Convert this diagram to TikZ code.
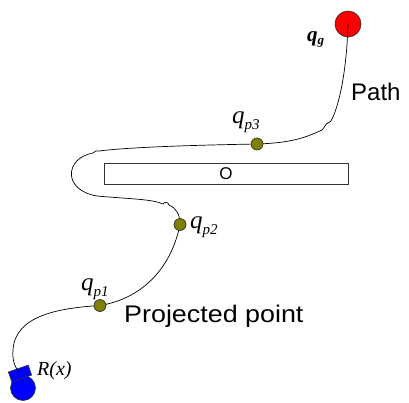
\documentclass[tikz,border=0pt]{standalone}
\usepackage{fontspec}
\setmainfont{Liberation Sans}
\newfontfamily\tnr{Liberation Serif}
\definecolor{wpolive}{RGB}{128,128,0}
\newcommand\qsub[1]{{\tnr\itshape\fontsize{25}{25}\selectfont q}\raisebox{-6pt}{\tnr\itshape\fontsize{15}{15}\selectfont #1}}
\tikzset{
  goal/.style={circle,draw=black!80,line width=0.7pt,fill=red,minimum size=26pt,inner sep=0pt},
  wp/.style={circle,draw=black!80,line width=0.7pt,fill=wpolive,minimum size=12pt,inner sep=0pt},
  obst/.style={draw=black!80,line width=0.8pt,minimum width=244pt,minimum height=21pt,inner sep=0pt,font=\fontsize{17}{17}\selectfont},
  robotbody/.style={circle,draw=black!80,line width=0.6pt,fill=blue,minimum size=25pt,inner sep=0pt},
  robothead/.style={rectangle,draw=black!80,line width=0.6pt,fill=blue,minimum width=21pt,minimum height=10.5pt,inner sep=0pt},
  pathline/.style={line width=0.7pt,black},
  lab/.style={inner sep=0pt,anchor=base west},
  sanslab/.style={lab,font=\fontsize{24}{24}\selectfont}
}
\begin{document}
\begin{tikzpicture}[x=1pt,y=-1pt]
\useasboundingbox (0,0) rectangle (409,402);
% obstacle
\node[obst] (O) at (226,173.5) {O};
% goal and robot
\node[goal] (g) at (348,24) {};
\node[robotbody] (rb) at (23,388) {};
\node[robothead,rotate=19] (rh) at (20,373.5) {};
% waypoint positions
\coordinate (c3) at (257,144);
\coordinate (c2) at (180,224.5);
\coordinate (c1) at (100,305.5);
\coordinate (rend) at (20,373);
% path
\draw[pathline] (g.center) .. controls (347,60) and (342,96) .. (333,117)
  .. controls (331,121) and (330,123) .. (328,123)
  .. controls (326,123) and (325,127) .. (322,130)
  .. controls (305,138) and (290,143) .. (c3)
  .. controls (200,145) and (130,147) .. (99,151)
  .. controls (97,150) and (95,151) .. (93,153)
  .. controls (65,158) and (62,190) .. (97,196)
  .. controls (130,199) and (152,199) .. (163,204)
  .. controls (165,201) and (168,202) .. (169,205)
  .. controls (176,208) and (180,214) .. (c2)
  .. controls (172,265) and (145,298) .. (c1)
  .. controls (60,308) and (15,315) .. (13,350)
  .. controls (12,360) and (15,368) .. (rend);
% waypoints
\node[wp] (p3) at (c3) {};
\node[wp] (p2) at (c2) {};
\node[wp] (p1) at (c1) {};
% labels
\node[lab] (lg) at (307,41) {{\tnr\bfseries\itshape\fontsize{21}{21}\selectfont q}\raisebox{-3pt}{\tnr\bfseries\itshape\fontsize{13}{13}\selectfont g}};
\node[lab] (l3) at (232,123) {\qsub{p3}};
\node[lab] (l2) at (190,228) {\qsub{p2}};
\node[lab] (l1) at (81,290) {\qsub{p1}};
\node[sanslab] (lpath) at (351,100) {Path};
\node[sanslab] (lproj) at (124,322) {\scalebox{1.12}[1]{Projected point}};
\node[lab] (lr) at (37,375) {\tnr\itshape\fontsize{20}{20}\selectfont R(x)};
\end{tikzpicture}
\end{document}
